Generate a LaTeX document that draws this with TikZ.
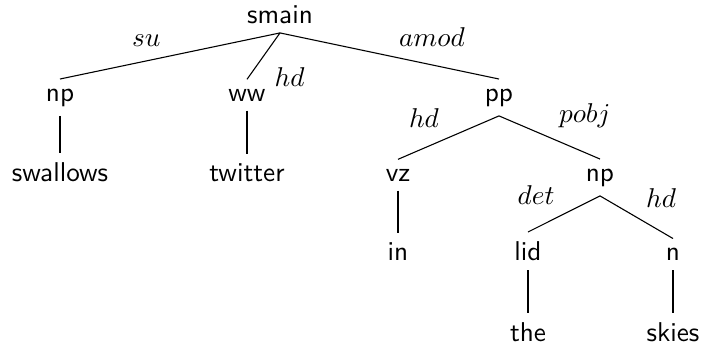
\documentclass[tikz,border=0pt]{standalone}
\usepackage{amsmath}
\usepackage{tikz}
\usetikzlibrary{positioning}

\begin{document}
\begin{tikzpicture}[x=0.3675pt, y=-0.3675pt, cat/.style={anchor=base, font=\sffamily}]
\useasboundingbox (0,0) rectangle (702,344) ;

\node[cat] at (280,23) (smain) {smain} ;

\node[cat] at (60,101) (np1) {np} ;
\node[cat] at (247,101) (ww) {ww} ;
\node[cat] at (499,101) (pp) {pp} ;

\node[cat] at (60,181) (swallows) {swallows} ;
\node[cat] at (247,181) (twitter) {twitter} ;
\node[cat] at (398,181) (vz) {vz} ;
\node[cat] at (600,181) (np2) {np} ;

\node[cat] at (398,260.5) (inword) {in} ;
\node[cat] at (528,260.5) (lid) {lid} ;
\node[cat] at (673,260.5) (n) {n} ;

\node[cat] at (528,341) (the) {the} ;
\node[cat] at (673,341) (skies) {skies} ;

\draw (smain.south) -- node[above left] (lsu) {$su$} (np1.north) ;
\draw (smain.south) -- node[pos=0.95, right=6pt] (lhd1) {$hd$} (ww.north) ;
\draw (smain.south) -- node[above right] (lamod) {$amod$} (pp.north) ;
\draw (np1.south) -- (swallows.north) ;
\draw (ww.south) -- (twitter.north) ;
\draw (pp.south) -- node[above left] (lhd2) {$hd$} (vz.north) ;
\draw (pp.south) -- node[above right] (lpobj) {$pobj$} (np2.north) ;
\draw (vz.south) -- (inword.north) ;
\draw (np2.south) -- node[above left] (ldet) {$det$} (lid.north) ;
\draw (np2.south) -- node[above right] (lhd3) {$hd$} (n.north) ;
\draw (lid.south) -- (the.north) ;
\draw (n.south) -- (skies.north) ;
\end{tikzpicture}
\end{document}
